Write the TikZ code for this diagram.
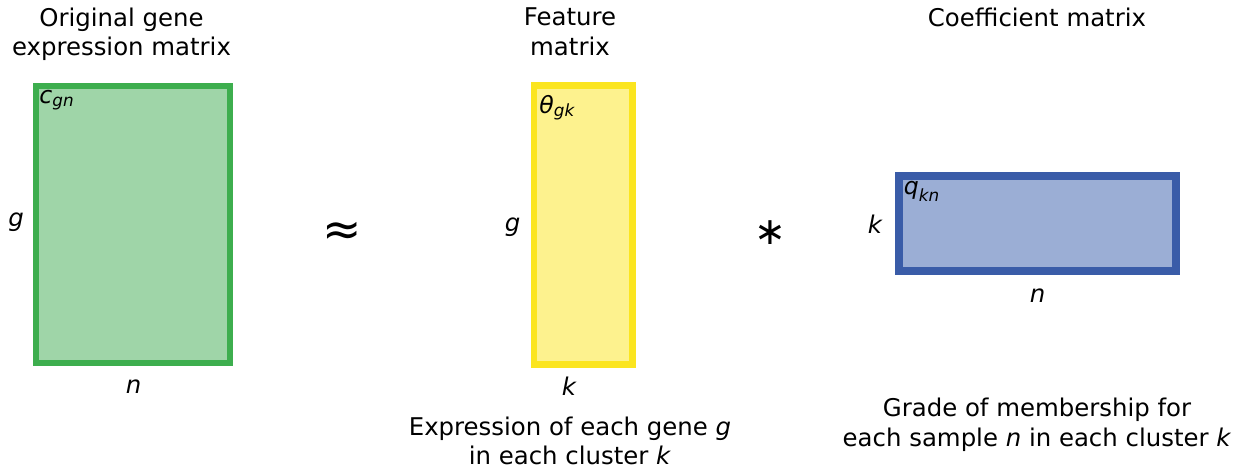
\documentclass[tikz,border=0pt]{standalone}
\usepackage{fontspec}
\setmainfont{DejaVu Sans}
\definecolor{gfill}{HTML}{9FD5A8}
\definecolor{gline}{HTML}{3DAE4E}
\definecolor{yfill}{HTML}{FDF28E}
\definecolor{yline}{HTML}{FBE51F}
\definecolor{bfill}{HTML}{9BAED5}
\definecolor{bline}{HTML}{3A5CA8}
\newcommand{\sbs}[2]{\raisebox{-#1}{\fontsize{8.4}{9}\selectfont\itshape #2}}
\begin{document}
\begin{tikzpicture}[x=0.5pt,y=-0.5pt,
  txt/.style={inner sep=0pt, align=center, font=\fontsize{12.2}{14.75}\selectfont},
  ent/.style={inner sep=0pt, anchor=base west, font=\fontsize{11.8}{13}\selectfont\itshape},
  dim/.style={inner sep=0pt, anchor=base, font=\fontsize{12.2}{14.75}\selectfont\itshape},
  mat/.style={inner sep=0pt, outer sep=0pt},
  sym/.style={inner sep=0pt, font=\fontsize{23.5}{24}\selectfont}]
\path[use as bounding box] (0,0) rectangle (1249,471);
% matrices
\node[mat, draw=gline, fill=gfill, line width=3pt, minimum width=97pt, minimum height=138.5pt] (C) at (133,224.5) {};
\node[mat, draw=yline, fill=yfill, line width=3.3pt, minimum width=49.25pt, minimum height=139.5pt] (T) at (583.25,225) {};
\node[mat, draw=bline, fill=bfill, line width=3.8pt, minimum width=138.5pt, minimum height=47.5pt] (Q) at (1037.5,223.5) {};
% titles
\node[txt, anchor=north] (t1) at (121.5,7.5) {Original gene\\expression matrix};
\node[txt, anchor=north] (t2) at (570,7.5) {Feature\\matrix};
\node[txt, anchor=north] (t3) at (1037,7.5) {Coefficient matrix};
% entries
\node[ent] (c) at (39,103.5) {c\sbs{1.5pt}{gn}};
\node[ent] (th) at (539,113) {θ\sbs{1.5pt}{gk}};
\node[ent] (q) at (903.5,194) {q\sbs{3.5pt}{kn}};
% dimension labels
\node[dim] (gC) at (16,226.5) {g};
\node[dim] (nC) at (133.5,393) {n};
\node[dim] (gT) at (512.5,231) {g};
\node[dim] (kT) at (569,395) {k};
\node[dim] (kQ) at (875,233) {k};
\node[dim] (nQ) at (1037.5,302) {n};
% operators
\node[sym] (approx) at (342.5,234) {≈};
\node[sym, font=\fontsize{19}{20}\selectfont] (ast) at (770,233) {∗};
% captions
\node[txt] (cap1) at (570,441) {Expression of each gene \textit{g}\\in each cluster \textit{k}};
\node[txt] (cap2) at (1037,425) {Grade of membership for\\each sample \textit{n} in each cluster \textit{k}};
\end{tikzpicture}
\end{document}
